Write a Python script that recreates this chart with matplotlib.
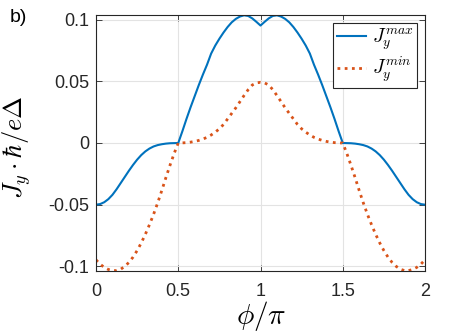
import matplotlib
matplotlib.use("Agg")
import matplotlib.pyplot as plt

# ===== Donnees =====
phi = [0.000, 0.025, 0.050, 0.075, 0.100, 0.125, 0.150, 0.175, 0.200, 0.225,
       0.250, 0.275, 0.300, 0.325, 0.350, 0.375, 0.400, 0.425, 0.450, 0.475,
       0.500, 0.525, 0.550, 0.575, 0.600, 0.625, 0.650, 0.675, 0.700, 0.725,
       0.750, 0.775, 0.800, 0.825, 0.850, 0.875, 0.900, 0.925, 0.950, 0.975,
       1.000, 1.025, 1.050, 1.075, 1.100, 1.125, 1.150, 1.175, 1.200, 1.225,
       1.250, 1.275, 1.300, 1.325, 1.350, 1.375, 1.400, 1.425, 1.450, 1.475,
       1.500, 1.525, 1.550, 1.575, 1.600, 1.625, 1.650, 1.675, 1.700, 1.725,
       1.750, 1.775, 1.800, 1.825, 1.850, 1.875, 1.900, 1.925, 1.950, 1.975,
       2.000]

j_max = [-0.0500, -0.0495, -0.0480, -0.0455, -0.0420, -0.0375, -0.0325, -0.0275, -0.0225, -0.0178,
         -0.0135, -0.0098, -0.0068, -0.0045, -0.0028, -0.0017, -0.0010, -0.0005, -0.0002, -0.0001,
         0.0000, 0.0095, 0.0195, 0.0290, 0.0380, 0.0470, 0.0555, 0.0635, 0.0725, 0.0790,
         0.0845, 0.0895, 0.0940, 0.0978, 0.1006, 0.1025, 0.1035, 0.1030, 0.1010, 0.0982,
         0.0952,
         0.0982, 0.1010, 0.1030, 0.1035, 0.1025, 0.1006, 0.0978, 0.0940, 0.0895, 0.0845,
         0.0790, 0.0725, 0.0635, 0.0555, 0.0470, 0.0380, 0.0290, 0.0195, 0.0095, 0.0000,
         -0.0001, -0.0002, -0.0005, -0.0010, -0.0017, -0.0028, -0.0045, -0.0068, -0.0098, -0.0135,
         -0.0178, -0.0225, -0.0275, -0.0325, -0.0375, -0.0420, -0.0455, -0.0480, -0.0495, -0.0500]

j_min = [-0.0947, -0.0982, -0.1008, -0.1025, -0.1034, -0.1034, -0.1023, -0.1000, -0.0968, -0.0925,
         -0.0872, -0.0810, -0.0740, -0.0662, -0.0578, -0.0485, -0.0385, -0.0280, -0.0180, -0.0085,
         0.0000, 0.0001, 0.0003, 0.0007, 0.0013, 0.0021, 0.0032, 0.0046, 0.0065, 0.0088,
         0.0115, 0.0150, 0.0195, 0.0240, 0.0285, 0.0335, 0.0385, 0.0432, 0.0470, 0.0487,
         0.0492,
         0.0487, 0.0470, 0.0432, 0.0385, 0.0335, 0.0285, 0.0240, 0.0195, 0.0150, 0.0115,
         0.0088, 0.0065, 0.0046, 0.0032, 0.0021, 0.0013, 0.0007, 0.0003, 0.0001, 0.0000,
         -0.0085, -0.0180, -0.0280, -0.0385, -0.0485, -0.0578, -0.0662, -0.0740, -0.0810, -0.0872,
         -0.0925, -0.0968, -0.1000, -0.1023, -0.1034, -0.1034, -0.1025, -0.1008, -0.0982, -0.0947]

x_ticks = [0, 0.5, 1, 1.5, 2]
x_labels = ["0", "0.5", "1", "1.5", "2"]
y_ticks = [-0.1, -0.05, 0, 0.05, 0.1]
y_labels = ["-0.1", "-0.05", "0", "0.05", "0.1"]

# ===== Style =====
plt.rcParams["font.family"] = ["Liberation Sans", "DejaVu Sans"]
plt.rcParams["mathtext.fontset"] = "cm"

axe_col = "#262626"

fig = plt.figure(figsize=(4.58, 3.34), dpi=100)
ax = fig.add_axes([96 / 458, 1 - 270.7 / 334, 329 / 458, 255.4 / 334])

ax.plot(phi, j_max, color="#0072BD", lw=1.5, label="$J_y^{max}$")
ax.plot(phi, j_min, color="#D95319", lw=2.0, ls=(0, (1, 1.6)), label="$J_y^{min}$")

ax.set_xlim(0, 2)
ax.set_ylim(-0.1035, 0.1035)
ax.set_xticks(x_ticks)
ax.set_xticklabels(x_labels)
ax.set_yticks(y_ticks)
ax.set_yticklabels(y_labels)

ax.grid(True, color="#e3e3e3", lw=0.8)
ax.set_axisbelow(True)
for s in ax.spines.values():
    s.set_color(axe_col)
    s.set_linewidth(0.8)
ax.tick_params(direction="in", length=4, width=0.6, colors=axe_col,
               labelsize=13, top=True, right=True)
ax.tick_params(axis="x", pad=9)
ax.tick_params(axis="y", pad=5)

fig.text(261 / 458, 1 - 316 / 334, r"$\phi/\pi$", fontsize=21,
         ha="center", va="center")
fig.text(17 / 458, 1 - 147 / 334, r"$J_y \cdot \hbar / e\Delta$", fontsize=19,
         rotation=90, ha="center", va="center")
fig.text(10 / 458, 1 - 22 / 334, "b)", fontsize=14, color="black")

leg = ax.legend(loc="upper right", fontsize=14, handlelength=1.5, handletextpad=0.3,
                borderpad=0.2, labelspacing=0.1, fancybox=False, framealpha=1,
                borderaxespad=0.4)
leg.get_frame().set_edgecolor(axe_col)
leg.get_frame().set_linewidth(0.8)

plt.savefig("out.png", dpi=100)
